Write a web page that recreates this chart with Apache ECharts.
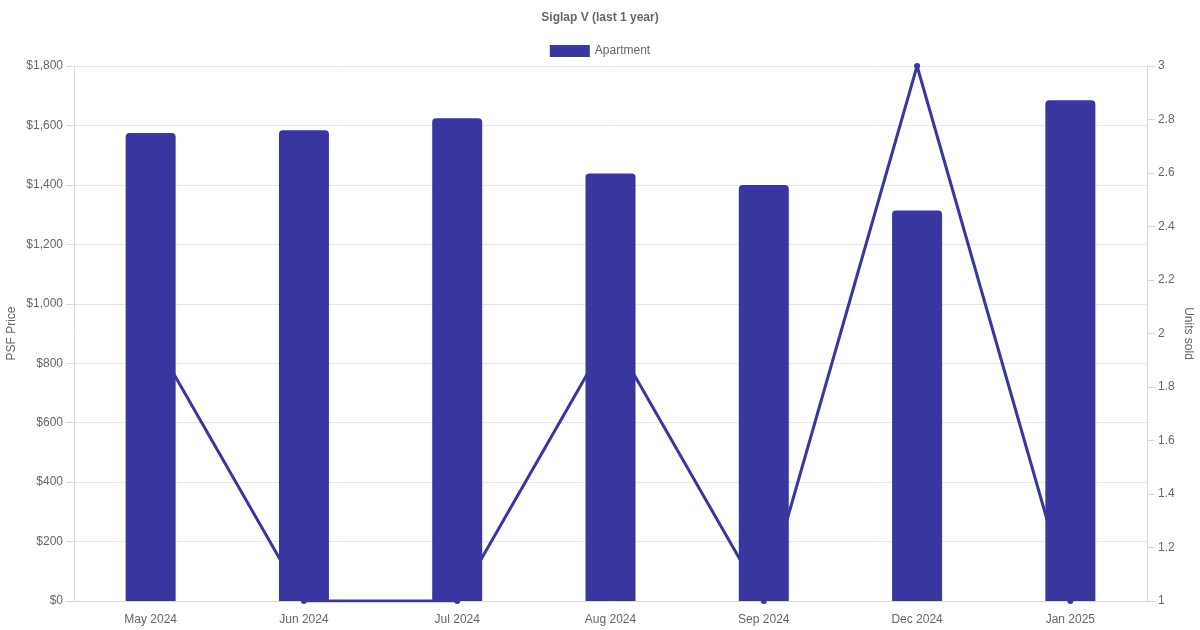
<!DOCTYPE html>
<html>
<head>
<meta charset="utf-8">
<script src="https://cdn.jsdelivr.net/npm/echarts@6/dist/echarts.min.js"></script>
<style>html,body{margin:0;padding:0;background:#fff}#c{width:1200px;height:630px}</style>
</head>
<body>
<div id="c"></div>
<script>
const categories = ['May 2024','Jun 2024','Jul 2024','Aug 2024','Sep 2024','Dec 2024','Jan 2025'];
const psfPrice = [1575, 1584, 1624, 1438, 1400, 1314, 1685];
const unitsSold = [2, 1, 1, 2, 1, 3, 1];
const titleText = 'Siglap V (last 1 year)';
const barName = 'Apartment';
const lineName = 'Units sold';

const color = '#3a36a0';
const font = 'Liberation Sans, Arial, Helvetica, sans-serif';
const chart = echarts.init(document.getElementById('c'), null, {renderer:'canvas'});
chart.setOption({
  animation:false,
  textStyle:{fontFamily:font},
  title:{text:titleText,left:'center',top:7,textStyle:{fontFamily:font,fontSize:12,fontWeight:'bold',color:'#666'}},
  legend:{data:[barName],top:40,left:'center',itemWidth:40,itemHeight:12,itemGap:10,
    textStyle:{fontFamily:font,fontSize:12,color:'#666'},icon:'rect'},
  grid:{left:74,right:53,top:66,bottom:29,containLabel:false,outerBoundsMode:'none'},
  xAxis:{type:'category',data:categories,boundaryGap:true,
    axisLine:{lineStyle:{color:'#d9d9d9'}},axisTick:{show:false},
    axisLabel:{color:'#666',fontSize:12,fontFamily:font,margin:13},splitLine:{show:false}},
  yAxis:[
    {type:'value',min:0,max:1800,interval:200,name:'PSF Price',nameLocation:'middle',nameRotate:90,nameGap:56,
     nameMoveOverlap:false,
     nameTextStyle:{color:'#666',fontSize:12,fontFamily:font},
     axisLine:{show:true,lineStyle:{color:'#d9d9d9'}},axisTick:{show:true,length:8,lineStyle:{color:'#d9d9d9'}},
     axisLabel:{color:'#666',fontSize:12,fontFamily:font,margin:11,formatter:v=>'$'+v.toLocaleString('en-US')},
     splitLine:{lineStyle:{color:'#e6e6e6'}}},
    {type:'value',min:1,max:3,interval:0.2,name:'Units sold',nameLocation:'middle',nameRotate:-90,nameGap:35,
     nameMoveOverlap:false,
     nameTextStyle:{color:'#666',fontSize:12,fontFamily:font},
     axisLine:{show:true,lineStyle:{color:'#d9d9d9'}},axisTick:{show:true,length:8,lineStyle:{color:'#d9d9d9'}},
     axisLabel:{color:'#666',fontSize:12,fontFamily:font,margin:11,formatter:v=>String(+v.toFixed(1))},
     splitLine:{show:false}}
  ],
  series:[
    {name:barName,type:'bar',yAxisIndex:0,data:psfPrice,barWidth:50,z:3,
     itemStyle:{color:color,borderRadius:[4,4,0,0]}},
    {name:lineName,type:'line',yAxisIndex:1,data:unitsSold,z:2,symbol:'circle',symbolSize:6,
     lineStyle:{color:color,width:3},itemStyle:{color:color}}
  ]
});
</script>
</body>
</html>
